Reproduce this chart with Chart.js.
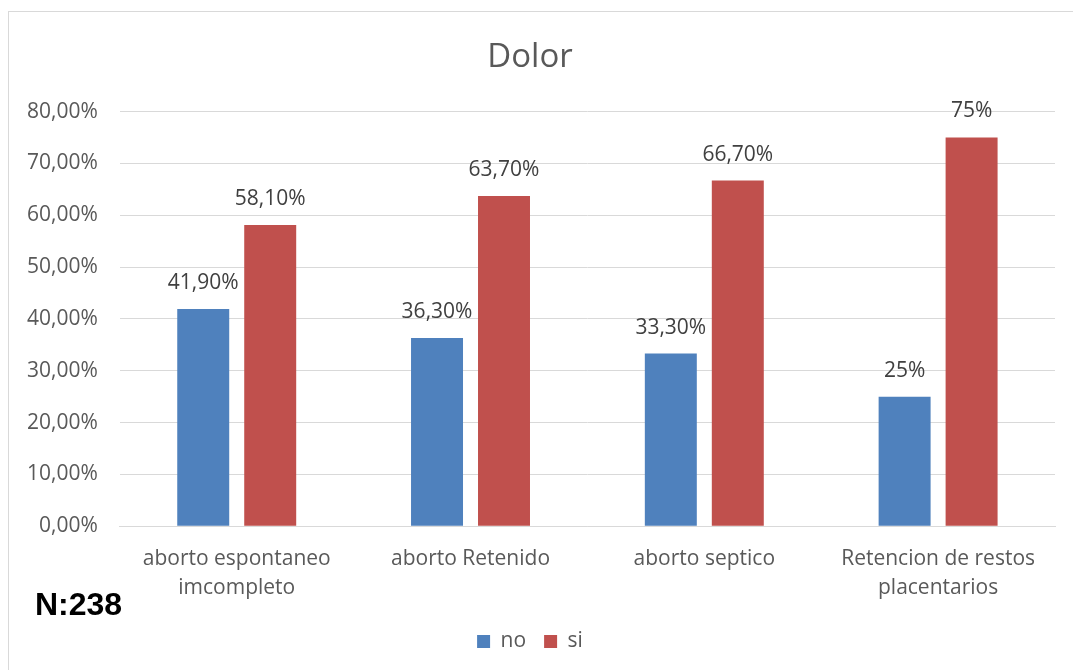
<!DOCTYPE html>
<html>
<head>
<meta charset="utf-8">
<script src="https://cdn.jsdelivr.net/npm/chart.js@4/dist/chart.umd.min.js"></script>
<style>
  body { margin: 0; background: #fff; }
  #wrap { position: relative; width: 1073px; height: 670px; }
  #frame { position: absolute; left: 8px; top: 11px; width: 1080px; height: 680px; border: 1px solid #d9d9d9; box-sizing: border-box; }
  #n { position: absolute; left: 35px; top: 588px; font: bold 32px/1 "Liberation Sans", Arial, sans-serif; color: #000; }
</style>
</head>
<body>
<div id="wrap">
  <div id="frame"></div>
  <canvas id="chart" width="1073" height="670"></canvas>
  <div id="n">N:238</div>
</div>
<script>
// Categories and series
let categories = [['aborto espontaneo', 'imcompleto'], 'aborto Retenido', 'aborto septico', ['Retencion de restos', 'placentarios']];
let noValues = [0.419, 0.363, 0.333, 0.25];
let siValues = [0.581, 0.637, 0.667, 0.75];
let noLabels = ['41,90%', '36,30%', '33,30%', '25%'];
let siLabels = ['58,10%', '63,70%', '66,70%', '75%'];

let font = '"Open Sans", Lato, sans-serif';

// Value labels above bars
let barLabels = {
  id: 'barLabels',
  afterDatasetsDraw(chart) {
    let ctx = chart.ctx;
    ctx.save();
    ctx.font = '21px ' + font;
    ctx.fillStyle = '#404040';
    ctx.textAlign = 'center';
    ctx.textBaseline = 'middle';
    chart.data.datasets.forEach((ds, i) => {
      chart.getDatasetMeta(i).data.forEach((bar, j) => {
        ctx.fillText(ds.valueLabels[j], bar.x, bar.y - 26);
      });
    });
    ctx.restore();
  }
};

new Chart(document.getElementById('chart'), {
  type: 'bar',
  data: {
    labels: categories,
    datasets: [
      { label: 'no', data: noValues, valueLabels: noLabels, backgroundColor: '#4f81bd' },
      { label: 'si', data: siValues, valueLabels: siLabels, backgroundColor: '#c0504d' },
    ],
  },
  options: {
    responsive: false,
    animation: false,
    layout: { padding: { top: 32, right: 18, left: 5, bottom: 8 } },
    datasets: { bar: { categoryPercentage: 0.573, barPercentage: 0.776 } },
    scales: {
      x: {
        grid: { display: false },
        border: { color: '#d9d9d9', width: 1 },
        ticks: { color: '#595959', font: { size: 21, family: font, lineHeight: 1.4 }, padding: 10, maxRotation: 0 },
      },
      y: {
        min: 0,
        max: 0.8,
        grid: { color: '#d9d9d9', drawTicks: false },
        border: { display: false },
        ticks: {
          stepSize: 0.1,
          color: '#595959',
          padding: 22,
          font: { size: 21, family: font },
          callback: v => (v * 100).toFixed(2).replace('.', ',') + '%',
        },
      },
    },
    plugins: {
      title: {
        display: true,
        text: 'Dolor',
        color: '#595959',
        font: { size: 33, family: font, weight: 'normal' },
        padding: { top: 6, bottom: 34 },
      },
      legend: {
        position: 'bottom',
        labels: { color: '#595959', font: { size: 21, family: font }, boxWidth: 13, boxHeight: 13, padding: 18 },
      },
      tooltip: { enabled: false },
    },
  },
  plugins: [barLabels],
});
</script>
</body>
</html>
